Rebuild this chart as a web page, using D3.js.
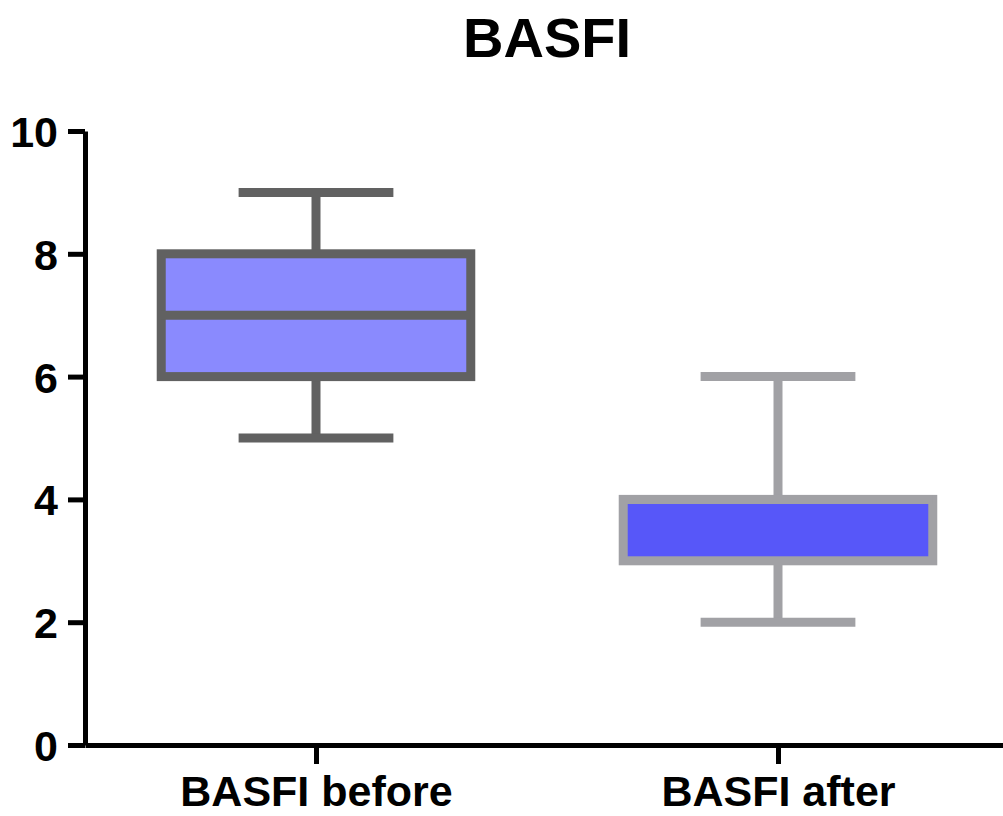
<!DOCTYPE html>
<html>
<head>
<meta charset="utf-8">
<script src="https://cdn.jsdelivr.net/npm/d3@7"></script>
<style>
  html, body { margin: 0; padding: 0; background: #ffffff; }
  svg text { font-family: "Liberation Sans", Arial, Helvetica, sans-serif; font-weight: bold; fill: #000; }
</style>
</head>
<body>
<svg id="chart" width="1003" height="816"></svg>
<script>
// Box-plot summaries for BASFI scores
const categories = ["BASFI before", "BASFI after"];
const whiskerLow = [5, 2];
const q1 = [6, 3];
const median = [7, 4];
const q3 = [8, 4];
const whiskerHigh = [9, 6];
const yTicks = [0, 2, 4, 6, 8, 10];
const fills = ["#8a8afe", "#5757f9"];
const strokes = ["#616161", "#a1a1a5"];

const svg = d3.select("#chart");

const y = d3.scaleLinear().domain([0, 10]).range([745, 131]);
const x = d3.scalePoint().domain(categories).range([85, 1009]).padding(0.5);
const step = x.step();
const boxW = step * 0.67;
const capW = step * 0.335;

// Title
svg.append("text")
  .attr("x", 547).attr("y", 57)
  .attr("text-anchor", "middle")
  .style("font-size", "56px")
  .text("BASFI");

// Boxes and whiskers
const groups = svg.selectAll("g.box")
  .data(categories.map((c, i) => ({ c, i })))
  .join("g").attr("class", "box");

groups.each(function (d) {
  const g = d3.select(this);
  const i = d.i;
  const cx = x(d.c);
  const sw = 9;
  // whisker stems
  g.append("line")
    .attr("x1", cx).attr("x2", cx)
    .attr("y1", y(q3[i])).attr("y2", y(whiskerHigh[i]))
    .attr("stroke", strokes[i]).attr("stroke-width", sw);
  g.append("line")
    .attr("x1", cx).attr("x2", cx)
    .attr("y1", y(q1[i])).attr("y2", y(whiskerLow[i]))
    .attr("stroke", strokes[i]).attr("stroke-width", sw);
  // caps
  [whiskerHigh[i], whiskerLow[i]].forEach(v => {
    g.append("line")
      .attr("x1", cx - capW / 2).attr("x2", cx + capW / 2)
      .attr("y1", y(v)).attr("y2", y(v))
      .attr("stroke", strokes[i]).attr("stroke-width", sw);
  });
  // box
  g.append("rect")
    .attr("x", cx - boxW / 2).attr("width", boxW)
    .attr("y", y(q3[i])).attr("height", y(q1[i]) - y(q3[i]))
    .attr("fill", fills[i])
    .attr("stroke", strokes[i]).attr("stroke-width", sw);
  // median
  g.append("line")
    .attr("x1", cx - boxW / 2).attr("x2", cx + boxW / 2)
    .attr("y1", y(median[i])).attr("y2", y(median[i]))
    .attr("stroke", strokes[i]).attr("stroke-width", sw);
});

// Y axis
const yAxis = svg.append("g")
  .attr("transform", "translate(85,0)")
  .call(d3.axisLeft(y).tickValues(yTicks).tickSize(17).tickPadding(10).tickSizeOuter(0));
yAxis.select(".domain").attr("stroke", "#000").attr("stroke-width", 5);
yAxis.selectAll(".tick line").attr("stroke", "#000").attr("stroke-width", 5);
yAxis.selectAll(".tick text")
  .style("font-size", "43px")
  .style("font-family", "'Liberation Sans', Arial, sans-serif")
  .style("font-weight", "bold")
  .attr("dy", "0.36em");

// X axis
const xAxis = svg.append("g")
  .attr("transform", "translate(0,745)")
  .call(d3.axisBottom(x).tickSize(19).tickPadding(14).tickSizeOuter(0));
xAxis.select(".domain").attr("stroke", "#000").attr("stroke-width", 5);
xAxis.selectAll(".tick line").attr("stroke", "#000").attr("stroke-width", 5);
xAxis.selectAll(".tick text")
  .style("font-size", "43px")
  .style("font-family", "'Liberation Sans', Arial, sans-serif")
  .style("font-weight", "bold")
  .attr("y", 61)
  .attr("dy", 0);
</script>
</body>
</html>
